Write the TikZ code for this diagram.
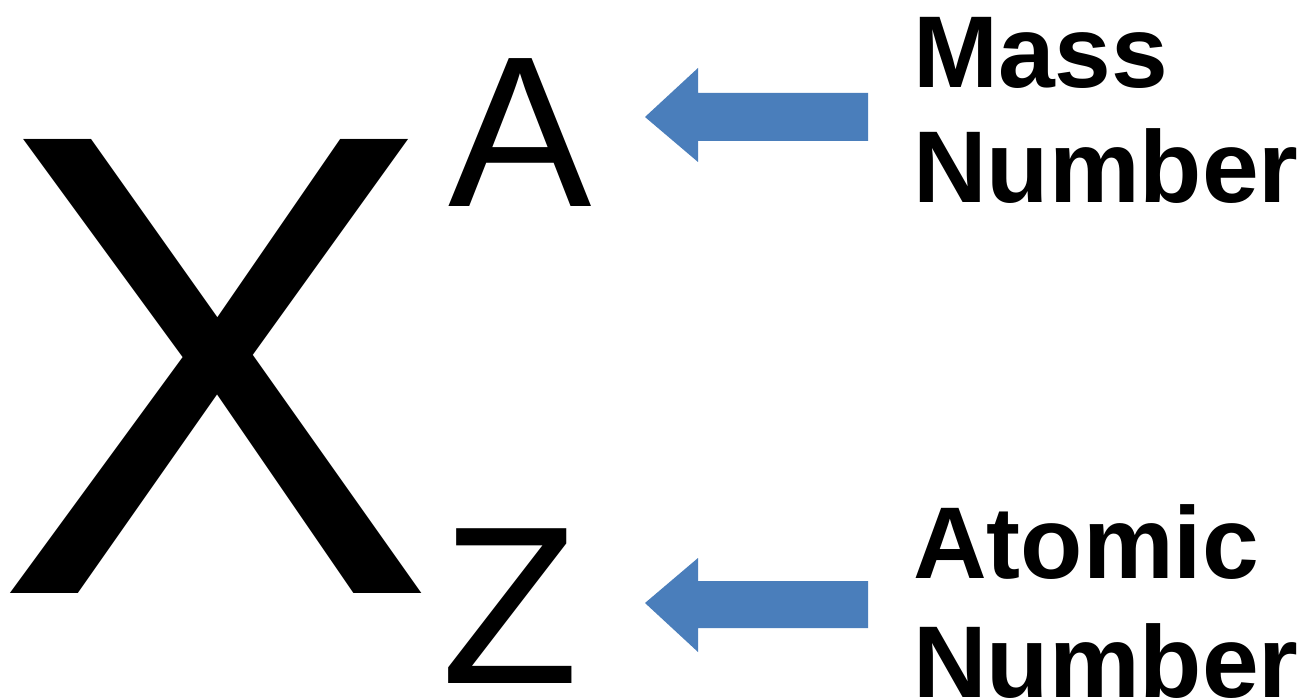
\documentclass[tikz,border=0pt]{standalone}
\usepackage{fontspec}
\setmainfont{Liberation Sans}
\definecolor{arrowblue}{HTML}{4A7EBB}
\tikzset{
  big/.style={inner sep=0pt, anchor=base west, font=\fontsize{660}{660}\selectfont},
  letter/.style={inner sep=0pt, anchor=base west, font=\fontsize{215}{215}\selectfont},
  letterz/.style={inner sep=0pt, anchor=base west, font=\fontsize{225}{225}\selectfont},
  label/.style={inner sep=0pt, anchor=base west, font=\bfseries\fontsize{102}{102}\selectfont},
  blockarrow/.style={fill=arrowblue, draw=none}
}
\begin{document}
\begin{tikzpicture}[x=1pt,y=-1pt]
\useasboundingbox (0,0) rectangle (1310,700);
\fill[white] (0,0) rectangle (1310,700);
\node[big] (x) at (-5,593) {X};
\node[letter] (a) at (448,207) {A};
\node[letterz] (z) at (441,683) {Z};
\node[label] (mass) at (913,88) {Mass};
\node[label] (num1) at (913,203) {Number};
\node[label] (atomic) at (913,578) {Atomic};
\node[label] (num2) at (913,697) {Number};
% block arrows
\fill[blockarrow] (868,93) -- (698,93) -- (698,68) -- (645,117) -- (698,162) -- (698,141) -- (868,141) -- cycle;
\fill[blockarrow] (868,581) -- (698,581) -- (698,558) -- (645,603) -- (698,652) -- (698,628) -- (868,628) -- cycle;
\end{tikzpicture}
\end{document}
